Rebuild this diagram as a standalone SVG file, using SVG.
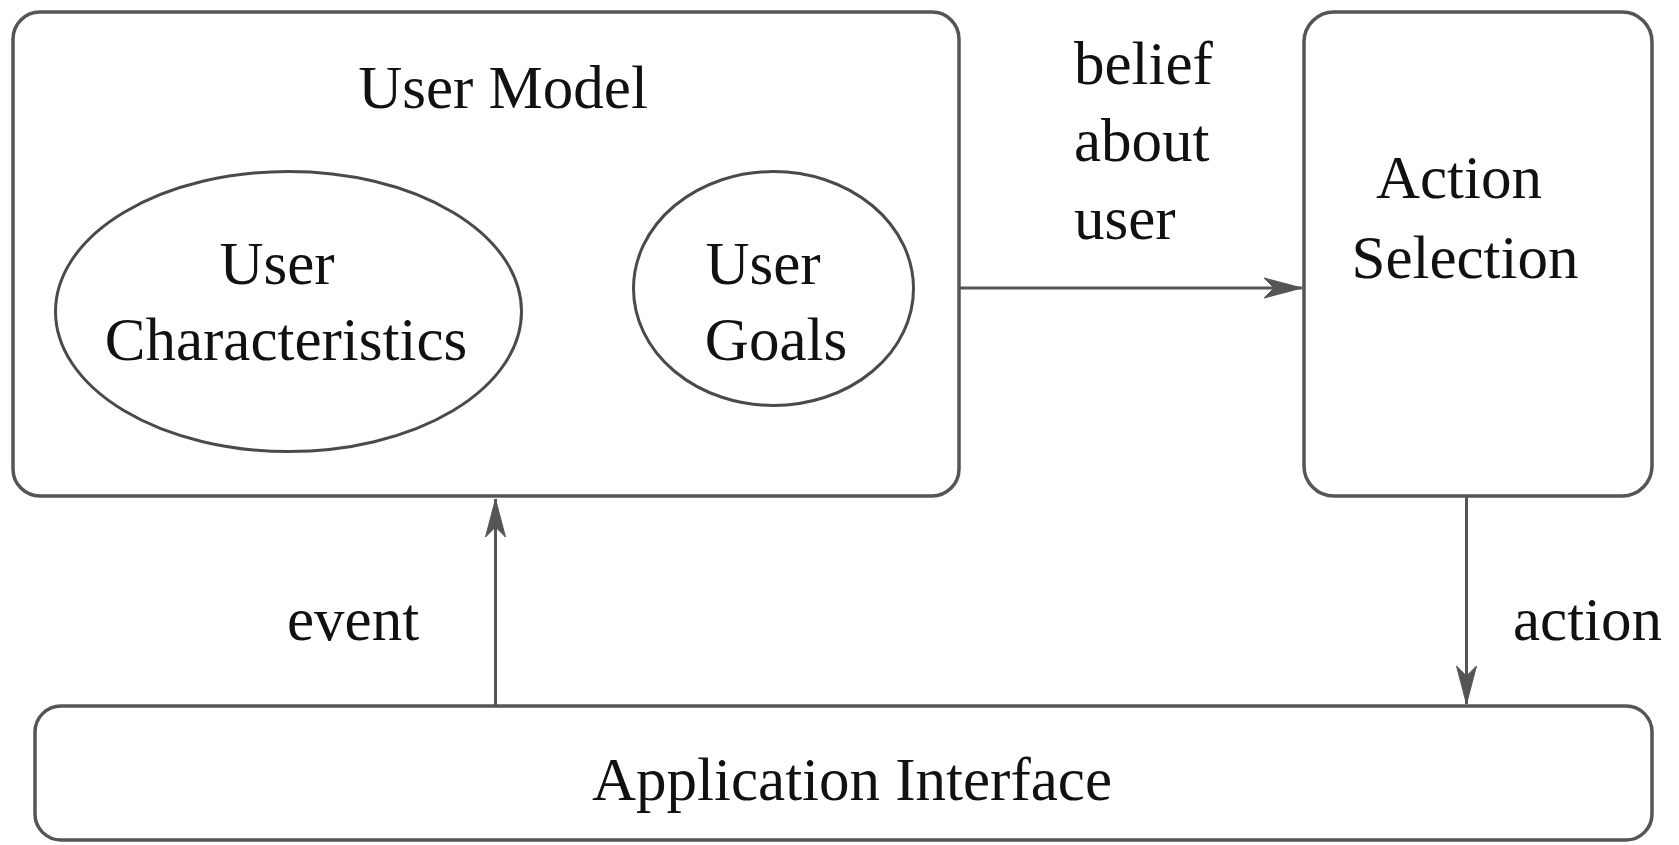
<svg xmlns="http://www.w3.org/2000/svg" width="1679" height="845" viewBox="0 0 1679 845">
<style>
.box{fill:#fff;stroke:#555;stroke-width:3.5}
.shape{fill:none;stroke:#4a4a4a;stroke-width:3}
.edge{fill:none;stroke:#555;stroke-width:3}
.head{fill:#555;stroke:#555;stroke-width:1;stroke-linejoin:round}
text{font-family:"Liberation Serif","Times New Roman",serif;font-size:61px;fill:#111}
.c{text-anchor:middle}
</style>
<defs>
<marker id="arr" viewBox="-40 -13 42 26" refX="0" refY="0" markerWidth="42" markerHeight="26" markerUnits="userSpaceOnUse" orient="auto">
<path d="M0,0 L-38,-10 L-28,0 L-38,10 Z" class="head"/>
</marker>
</defs>
<rect width="1679" height="845" fill="#fff"/>
<g id="user-model">
<rect class="box" x="13" y="12" width="946" height="484" rx="27" ry="27"/>
<text class="c" x="503" y="108">User Model</text>
</g>
<g id="user-characteristics">
<ellipse class="shape" cx="288.5" cy="311.5" rx="233" ry="140"/>
<text class="c" x="277" y="284">User</text>
<text class="c" x="286" y="360">Characteristics</text>
</g>
<g id="user-goals">
<ellipse class="shape" cx="773.5" cy="288.5" rx="140" ry="117"/>
<text class="c" x="763" y="284">User</text>
<text class="c" x="776" y="360">Goals</text>
</g>
<g id="action-selection">
<rect class="box" x="1304" y="12" width="348" height="484" rx="30" ry="30"/>
<text class="c" x="1459" y="198">Action</text>
<text class="c" x="1465" y="278">Selection</text>
</g>
<g id="application-interface">
<rect class="box" x="35" y="706" width="1617" height="134" rx="26" ry="26"/>
<text class="c" x="852" y="800">Application Interface</text>
</g>
<g id="connectors">
<line class="edge" x1="959" y1="288" x2="1302" y2="288" marker-end="url(#arr)"/>
<line class="edge" x1="495.5" y1="706" x2="495.5" y2="499" marker-end="url(#arr)"/>
<line class="edge" x1="1466.5" y1="497" x2="1466.5" y2="704" marker-end="url(#arr)"/>
<text x="1074" y="84">belief</text>
<text x="1074" y="161">about</text>
<text x="1074" y="239">user</text>
<text x="287" y="640">event</text>
<text x="1513" y="640">action</text>
</g>
</svg>
